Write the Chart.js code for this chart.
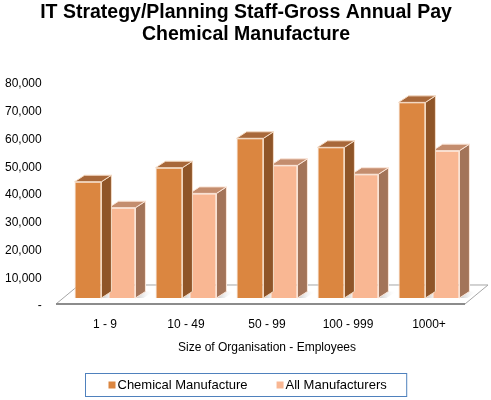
<!DOCTYPE html>
<html><head><meta charset="utf-8">
<script src="https://cdn.jsdelivr.net/npm/chart.js@4.4.1/dist/chart.umd.min.js"></script>
<style>html,body{margin:0;padding:0;background:#fff;}#wrap{width:491px;height:400px;position:relative;}</style>
</head><body><div id="wrap"><canvas id="c"></canvas></div>
<script>
// ---- data ----
const titleLines = ['IT Strategy/Planning Staff-Gross Annual Pay', 'Chemical Manufacture'];
const categories = ['1 - 9', '10 - 49', '50 - 99', '100 - 999', '1000+'];
const seriesNames = ['Chemical Manufacture', 'All Manufacturers'];
const chemicalManufacture = [41900, 46950, 57550, 54300, 70500];
const allManufacturers = [32550, 37700, 47800, 44600, 53100];
const yTickValues = [0, 10000, 20000, 30000, 40000, 50000, 60000, 70000, 80000];
const xAxisTitle = 'Size of Organisation - Employees';

// ---- style ----
const FONT = "'Liberation Sans', Arial, sans-serif";
const faceColors = [
  {front: '#DB8640', side: '#8F5528', top: '#A8683A', edge: '#F5DCC6'},
  {front: '#F9B793', side: '#A37459', top: '#C48D6E', edge: '#FBE6D9'}
];
const DX = 10, DY = 6.5;
Chart.defaults.font.family = FONT;

function drawFaces(ctx, el, col) {
  const p = el.getProps(['x', 'y', 'base', 'width'], true);
  const l = p.x - p.width / 2, r = p.x + p.width / 2, t = p.y, b = p.base;
  ctx.save();
  ctx.lineWidth = 1;
  ctx.strokeStyle = col.edge;
  ctx.beginPath();
  ctx.moveTo(r, t); ctx.lineTo(r + DX, t - DY); ctx.lineTo(r + DX, b - DY); ctx.lineTo(r, b); ctx.closePath();
  ctx.fillStyle = col.side; ctx.fill(); ctx.stroke();
  ctx.beginPath();
  ctx.moveTo(l, t); ctx.lineTo(l + DX, t - DY); ctx.lineTo(r + DX, t - DY); ctx.lineTo(r, t); ctx.closePath();
  ctx.fillStyle = col.top; ctx.fill(); ctx.stroke();
  ctx.restore();
}

const threeD = {
  id: 'threeD',
  beforeDatasetsDraw(chart) {
    const ctx = chart.ctx, ca = chart.chartArea;
    const base = chart.scales.y.getPixelForValue(0);
    const fy = base + 6, by = base - 13, sh = 23;
    const fl = ca.left - 8.5, fr = ca.right - 4.5;
    ctx.save();
    ctx.beginPath();
    ctx.moveTo(fl, fy); ctx.lineTo(fl + sh, by); ctx.lineTo(fr + sh, by); ctx.lineTo(fr, fy); ctx.closePath();
    ctx.fillStyle = '#ffffff'; ctx.fill();
    chart.data.datasets.forEach((ds, i) => {
      chart.getDatasetMeta(i).data.forEach(el => {
        const p = el.getProps(['x', 'base', 'width'], true);
        const r = p.x + p.width / 2;
        const g = ctx.createLinearGradient(r, 0, r + DX + 8, 0);
        g.addColorStop(0, 'rgba(150,150,150,0.55)');
        g.addColorStop(1, 'rgba(255,255,255,0)');
        ctx.beginPath();
        ctx.moveTo(r, p.base); ctx.lineTo(r + DX, p.base - DY); ctx.lineTo(r + DX + 8, p.base - DY); ctx.lineTo(r + 8, p.base); ctx.closePath();
        ctx.fillStyle = g; ctx.fill();
      });
    });
    ctx.lineWidth = 1; ctx.strokeStyle = '#a6a6a6';
    ctx.beginPath();
    ctx.moveTo(fl, fy); ctx.lineTo(fl + sh, by); ctx.lineTo(fr + sh, by); ctx.lineTo(fr, fy);
    ctx.stroke();
    ctx.lineWidth = 2; ctx.strokeStyle = '#8c8c8c';
    ctx.beginPath(); ctx.moveTo(fl, fy); ctx.lineTo(fr, fy); ctx.stroke();
    ctx.restore();
  },
  afterDatasetDraw(chart, args) {
    const col = faceColors[args.index];
    args.meta.data.forEach(el => drawFaces(chart.ctx, el, col));
  },
  afterDraw(chart) {
    const ctx = chart.ctx;
    ctx.save();
    // title
    ctx.font = 'bold 19.5px ' + FONT;
    ctx.fillStyle = '#000'; ctx.textAlign = 'center'; ctx.textBaseline = 'alphabetic';
    titleLines.forEach((t, i) => ctx.fillText(t, chart.width / 2 + 0.5, 17.5 + i * 22.7));
    // legend
    ctx.font = '13px ' + FONT;
    const names = chart.data.datasets.map(d => d.label);
    const widths = names.map(n => ctx.measureText(n).width);
    const padL = 23, padR = 20, mk = 7, gapT = 2, gapItem = 29;
    let total = padL + padR + gapItem * (names.length - 1);
    widths.forEach(w => total += mk + gapT + w);
    const bx = Math.round(chart.width / 2 - total / 2) + 0.5;
    const bTop = chart.height - 26.5, bH = 23;
    ctx.strokeStyle = '#4F81BD'; ctx.lineWidth = 1;
    ctx.strokeRect(bx, bTop, total, bH);
    let x = bx + padL;
    const cy = bTop + bH / 2;
    names.forEach((n, i) => {
      ctx.fillStyle = faceColors[i].front;
      ctx.fillRect(x, cy - 3.5, mk, mk);
      x += mk + gapT;
      ctx.fillStyle = '#000'; ctx.textBaseline = 'middle'; ctx.textAlign = 'left';
      ctx.fillText(n, x, cy + 0.5);
      x += widths[i] + gapItem;
    });
    ctx.restore();
  }
};

new Chart(document.getElementById('c'), {
  type: 'bar',
  data: {
    labels: categories,
    datasets: [
      {label: seriesNames[0], data: chemicalManufacture, backgroundColor: faceColors[0].front, borderColor: faceColors[0].edge, borderWidth: 1, yAxisID: 'y', categoryPercentage: 0.84, barPercentage: 0.79},
      {label: seriesNames[1], data: allManufacturers, backgroundColor: faceColors[1].front, borderColor: faceColors[1].edge, borderWidth: 1, yAxisID: 'y', categoryPercentage: 0.84, barPercentage: 0.79}
    ]
  },
  options: {
    responsive: true, maintainAspectRatio: false, animation: false,
    layout: {padding: {left: 0, right: 21.5, top: 84, bottom: 40}},
    plugins: {
      legend: {display: false},
      tooltip: {enabled: false},
      title: {display: false}
    },
    scales: {
      x: {
        grid: {display: false, drawTicks: false}, border: {display: false},
        ticks: {color: '#000', font: {size: 12}, padding: 11},
        title: {display: true, text: xAxisTitle, color: '#000', font: {size: 12}, padding: {top: 9.4, bottom: 4.8}},
        afterFit(s) { s.height = 54; }
      },
      yl: {
        position: 'left', min: yTickValues[0], max: yTickValues[yTickValues.length - 1],
        grid: {display: false, drawTicks: false}, border: {display: false},
        afterBuildTicks(s) { s.ticks = yTickValues.map(v => ({value: v})); },
        ticks: {color: '#000', font: {size: 12}, padding: 22.8,
          callback: v => v === 0 ? '-' : v.toLocaleString('en-US')},
        afterFit(s) { s.width = 64.5; }
      },
      y: {display: false, min: -2883, max: 77117}
    }
  },
  plugins: [threeD]
});
</script></body></html>
